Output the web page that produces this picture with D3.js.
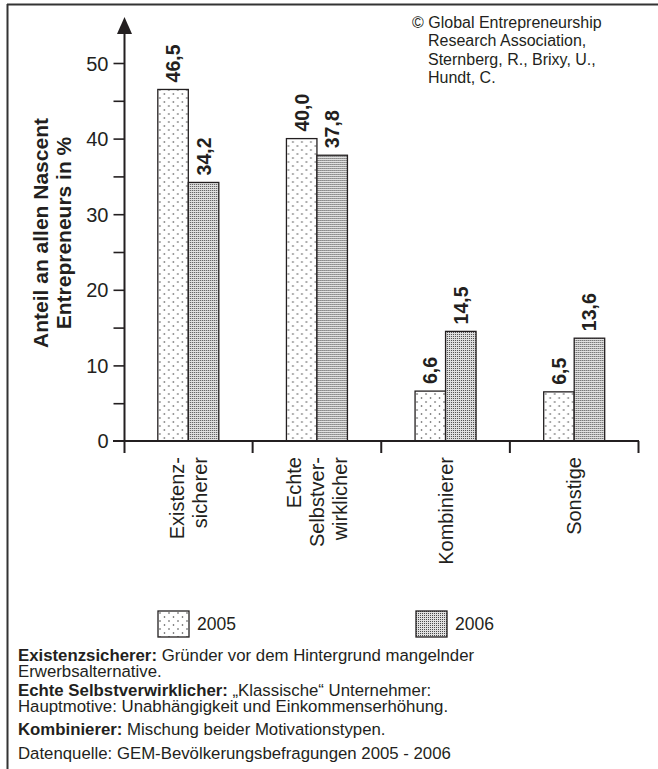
<!DOCTYPE html>
<html>
<head>
<meta charset="utf-8">
<script src="https://cdn.jsdelivr.net/npm/d3@7"></script>
<style>
  html, body { margin: 0; padding: 0; background: #fff; }
  svg text { font-family: "Liberation Sans", Arial, sans-serif; fill: #231f20; }
</style>
</head>
<body>
<svg id="chart" width="658" height="769"></svg>
<script>
// Daten aus der Grafik
var categories = ["Existenz-\nsicherer", "Echte\nSelbstver-\nwirklicher", "Kombinierer", "Sonstige"];
var years = ["2005", "2006"];
var values2005 = [46.5, 40.0, 6.6, 6.5];
var values2006 = [34.2, 37.8, 14.5, 13.6];
var yTicks = [0, 10, 20, 30, 40, 50];
var yTitle = ["Anteil an allen Nascent", "Entrepreneurs in %"];
var copyright = ["© Global Entrepreneurship", "Research Association,", "Sternberg, R., Brixy, U.,", "Hundt, C."];
var notes = [
  ["Existenzsicherer:", " Gründer vor dem Hintergrund mangelnder"],
  ["", "Erwerbsalternative."],
  ["Echte Selbstverwirklicher:", " „Klassische“ Unternehmer:"],
  ["", "Hauptmotive: Unabhängigkeit und Einkommenserhöhung."],
  ["Kombinierer:", " Mischung beider Motivationstypen."],
  ["", "Datenquelle: GEM-Bevölkerungsbefragungen 2005 - 2006"]
];

var ink = "#231f20";
var svg = d3.select("#chart");

// Muster für die Balken
var defs = svg.append("defs");
var p1 = defs.append("pattern").attr("id", "dots2005")
    .attr("patternUnits", "userSpaceOnUse").attr("width", 9).attr("height", 8);
p1.append("rect").attr("width", 9).attr("height", 8).attr("fill", "#fff");
p1.append("circle").attr("cx", 2).attr("cy", 2).attr("r", 0.8).attr("fill", "#444");
p1.append("circle").attr("cx", 6.5).attr("cy", 6).attr("r", 0.8).attr("fill", "#444");

var p2 = defs.append("pattern").attr("id", "dots2006")
    .attr("patternUnits", "userSpaceOnUse").attr("width", 2).attr("height", 2);
p2.append("rect").attr("width", 2).attr("height", 2).attr("fill", "#e0e0e0");
p2.append("rect").attr("width", 1).attr("height", 1).attr("fill", "#4a4a4a");

// Rahmen (nur oben und links sichtbar)
svg.append("line").attr("x1", 7).attr("x2", 658).attr("y1", 4.5).attr("y2", 4.5)
    .attr("stroke", "#333").attr("stroke-width", 2);
svg.append("line").attr("x1", 7.5).attr("x2", 7.5).attr("y1", 4).attr("y2", 769)
    .attr("stroke", "#333").attr("stroke-width", 2);

var y = d3.scaleLinear().domain([0, 50]).range([441, 63]);
var x0 = d3.scaleBand().domain(categories).range([124, 638.5]);
var x1 = d3.scaleBand().domain(years).range([0, 61]);
var off = (x0.bandwidth() - 61) / 2;

// Balken
var series = [values2005, values2006];
var groups = svg.append("g").selectAll("g").data(categories).join("g")
    .attr("transform", function (d) { return "translate(" + (x0(d) + off) + ",0)"; });

groups.selectAll("rect").data(function (d, i) {
    return years.map(function (yr, j) { return { year: yr, v: series[j][i] }; });
  }).join("rect")
    .attr("x", function (d) { return x1(d.year); })
    .attr("y", function (d) { return y(d.v); })
    .attr("width", x1.bandwidth())
    .attr("height", function (d) { return y(0) - y(d.v); })
    .attr("fill", function (d) { return d.year === "2005" ? "url(#dots2005)" : "url(#dots2006)"; })
    .attr("stroke", ink).attr("stroke-width", 1.3);

groups.selectAll("text.val").data(function (d, i) {
    return years.map(function (yr, j) { return { year: yr, v: series[j][i] }; });
  }).join("text").attr("class", "val")
    .attr("transform", function (d) {
      return "translate(" + (x1(d.year) + x1.bandwidth() / 2 + 7) + "," + (y(d.v) - 7) + ") rotate(-90)";
    })
    .attr("font-size", 19.5).attr("font-weight", "bold")
    .text(function (d) { return d3.format(".1f")(d.v).replace(".", ","); });

// y-Achse
var yAxis = svg.append("g").attr("transform", "translate(124.5,0)")
    .call(d3.axisLeft(y).tickValues(d3.range(5, 51, 5)).tickSize(11)
      .tickFormat(function (d) { return yTicks.indexOf(d) >= 0 ? d : ""; }));
yAxis.select(".domain").remove();
yAxis.selectAll("line").attr("stroke", ink).attr("stroke-width", 1.6);
yAxis.selectAll("text").attr("font-size", 20).attr("font-family", "Liberation Sans, Arial, sans-serif")
    .attr("fill", ink).attr("x", -16).attr("dy", "0.35em");
svg.append("text").attr("x", 108.5).attr("y", y(0)).attr("dy", "0.35em")
    .attr("text-anchor", "end").attr("font-size", 20).text(yTicks[0]);

svg.append("line").attr("x1", 124.5).attr("x2", 124.5).attr("y1", 453).attr("y2", 30)
    .attr("stroke", ink).attr("stroke-width", 2);
svg.append("path").attr("d", "M124.5,17 L117,34 L132,34 Z").attr("fill", ink);

// x-Achse
svg.append("line").attr("x1", 113).attr("x2", 639).attr("y1", y(0)).attr("y2", y(0))
    .attr("stroke", ink).attr("stroke-width", 2);
svg.append("g").selectAll("line").data(categories).join("line")
    .attr("x1", function (d) { return x0(d) + x0.bandwidth(); })
    .attr("x2", function (d) { return x0(d) + x0.bandwidth(); })
    .attr("y1", y(0)).attr("y2", 453)
    .attr("stroke", ink).attr("stroke-width", 2);

// Kategorie-Beschriftung
categories.forEach(function (c) {
  var lines = c.split("\n");
  var cx = x0(c) + x0.bandwidth() / 2;
  lines.forEach(function (ln, i) {
    var lx = cx + (i - (lines.length - 1) / 2) * 23;
    svg.append("text")
      .attr("transform", "translate(" + (lx + 7) + ",457) rotate(-90)")
      .attr("text-anchor", "end").attr("font-size", 20).text(ln);
  });
});

// Achsentitel
yTitle.forEach(function (t, i) {
  svg.append("text")
    .attr("transform", "translate(" + (40 + i * 23 + 7.5) + ",233) rotate(-90)")
    .attr("text-anchor", "middle").attr("font-size", 21).attr("font-weight", "bold").text(t);
});

// Copyright
copyright.forEach(function (t, i) {
  svg.append("text").attr("x", i === 0 ? 412 : 428).attr("y", 28 + i * 18.3)
    .attr("font-size", 16).text(t);
});

// Legende
var leg = svg.append("g").selectAll("g").data(years).join("g")
    .attr("transform", function (d, i) { return "translate(" + (158 + i * 258) + ",611)"; });
leg.append("rect").attr("width", 31).attr("height", 26)
    .attr("fill", function (d) { return d === "2005" ? "url(#dots2005)" : "url(#dots2006)"; })
    .attr("stroke", ink).attr("stroke-width", 1.3);
leg.append("text").attr("x", 39).attr("y", 13).attr("dy", "0.35em")
    .attr("font-size", 17.5).text(function (d) { return d; });

// Erläuterungen
var noteY = [655, 671, 690, 706, 729, 753];
notes.forEach(function (n, i) {
  var t = svg.append("text").attr("x", 18).attr("y", noteY[i]).attr("dy", "0.35em").attr("font-size", 16.8);
  if (n[0]) t.append("tspan").attr("font-weight", "bold").text(n[0]);
  t.append("tspan").text(n[1]);
});
</script>
</body>
</html>
